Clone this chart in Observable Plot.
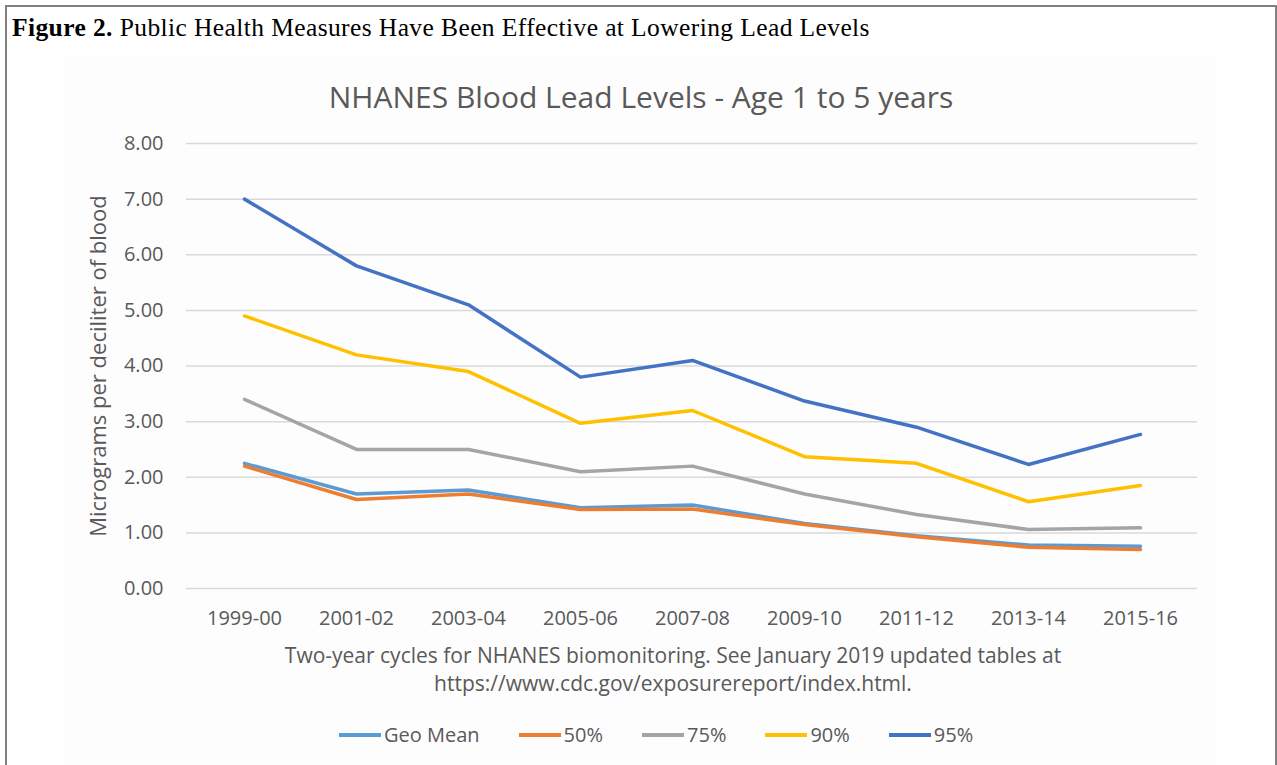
<!DOCTYPE html>
<html>
<head>
<meta charset="utf-8">
<script src="https://cdn.jsdelivr.net/npm/d3@7"></script>
<script src="https://cdn.jsdelivr.net/npm/@observablehq/plot@0.6"></script>
<style>
  body { margin: 0; background: #fff; }
  #wrap { position: relative; width: 1277px; height: 765px; overflow: hidden; font-family: "Open Sans", sans-serif; color: #595959; }
  #frame { position: absolute; left: 5px; top: 5px; width: 1268px; height: 900px; border-left: 2px solid #808080; border-top: 2px solid #808080; border-right: 2px solid #808080; }
  #panel { position: absolute; left: 64px; top: 55px; width: 1151px; height: 720px; background: #fdfdfd; }
  #caption { position: absolute; left: 12px; top: 15px; font-family: "Liberation Serif", "Times New Roman", serif; font-size: 25.5px; letter-spacing: 0.4px; line-height: 26px; color: #000; white-space: nowrap; }
  #title { position: absolute; left: 0; width: 1282px; top: 80px; text-align: center; font-size: 30px; line-height: 34px; white-space: nowrap; }
  #chart { position: absolute; left: 0; top: 120px; }
  #xtitle { position: absolute; left: 0; width: 1346px; top: 641px; text-align: center; font-size: 21px; line-height: 28px; }
  #legend { position: absolute; left: 339px; width: 700px; top: 721px; display: flex; justify-content: flex-start; gap: 39px; font-size: 20px; line-height: 28px; }
  .item { display: flex; align-items: center; white-space: nowrap; }
  .sw { display: inline-block; width: 42px; height: 4px; margin-right: 3px; }
</style>
</head>
<body>
<div id="wrap">
  <div id="panel"></div>
  <div id="frame"></div>
  <div id="caption"><b>Figure 2.</b> Public Health Measures Have Been Effective at Lowering Lead Levels</div>
  <div id="title">NHANES Blood Lead Levels - Age 1 to 5 years</div>
  <div id="chart"></div>
  <div id="xtitle">Two-year cycles for NHANES biomonitoring. See January 2019 updated tables at<br>https://www.cdc.gov/exposurereport/index.html.</div>
  <div id="legend"></div>
</div>
<script>
const cycles = ["1999-00", "2001-02", "2003-04", "2005-06", "2007-08", "2009-10", "2011-12", "2013-14", "2015-16"];
const seriesNames = ["Geo Mean", "50%", "75%", "90%", "95%"];
const seriesColors = ["#5B9BD5", "#ED7D31", "#A5A5A5", "#FFC000", "#4472C4"];
const geoMean = [2.25, 1.70, 1.77, 1.45, 1.50, 1.17, 0.95, 0.78, 0.76];
const p50 = [2.20, 1.60, 1.70, 1.42, 1.43, 1.15, 0.93, 0.74, 0.70];
const p75 = [3.40, 2.50, 2.50, 2.10, 2.20, 1.70, 1.33, 1.06, 1.09];
const p90 = [4.90, 4.20, 3.90, 2.97, 3.20, 2.37, 2.25, 1.56, 1.85];
const p95 = [7.00, 5.80, 5.10, 3.80, 4.10, 3.37, 2.90, 2.23, 2.77];
const yTicks = [0, 1, 2, 3, 4, 5, 6, 7, 8];
const yLabel = "Micrograms per deciliter of blood";

const seriesValues = [geoMean, p50, p75, p90, p95];
const data = [];
seriesNames.forEach((s, i) => {
  cycles.forEach((c, j) => data.push({ series: s, cycle: c, value: seriesValues[i][j] }));
});

const chart = Plot.plot({
  width: 1277,
  height: 530,
  marginLeft: 186,
  marginRight: 80,
  marginTop: 23,
  marginBottom: 62,
  style: { fontFamily: "'Open Sans', sans-serif", color: "#595959", background: "transparent" },
  x: { type: "point", domain: cycles, padding: 0.5 },
  y: { domain: [0, 8] },
  color: { domain: seriesNames, range: seriesColors },
  marks: [
    Plot.gridY(yTicks, { stroke: "#d9d9d9", strokeOpacity: 1, strokeWidth: 1.5 }),
    Plot.axisY(yTicks, { tickFormat: d => d.toFixed(2), tickSize: 0, tickPadding: 23, fontSize: 20, label: null }),
    Plot.axisY({ ticks: [], tickSize: 0, fontSize: 22,
      label: yLabel, labelAnchor: "center", labelArrow: "none", labelOffset: 96 }),
    Plot.axisX({ tickSize: 0, tickPadding: 22, fontSize: 20, label: null }),
    Plot.line(data, { x: "cycle", y: "value", z: "series", stroke: "series", strokeWidth: 3.5,
      strokeLinejoin: "round", strokeLinecap: "round" })
  ]
});
document.getElementById("chart").appendChild(chart);

const legend = d3.select("#legend");
seriesNames.forEach((s, i) => {
  const it = legend.append("div").attr("class", "item");
  it.append("span").attr("class", "sw").style("background", seriesColors[i]);
  it.append("span").text(s);
});
</script>
</body>
</html>
